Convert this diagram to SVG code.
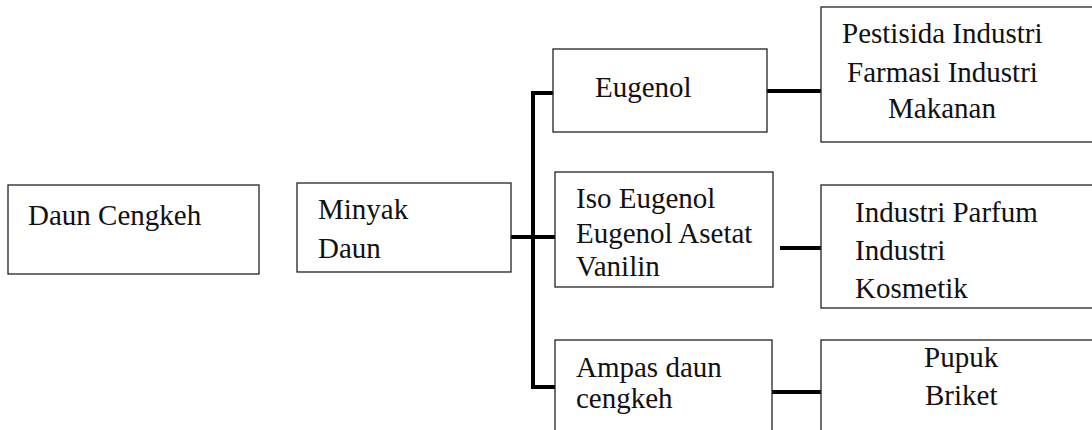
<svg xmlns="http://www.w3.org/2000/svg" width="1092" height="430" viewBox="0 0 1092 430">
  <style>
    .box { fill: #ffffff; stroke: #222222; stroke-width: 1.3; }
    .wire { stroke: #000000; stroke-width: 4; fill: none; }
    .lbl { font-family: 'Liberation Serif', 'Times New Roman', serif; font-size: 29px; fill: #111111; }
  </style>
  <rect width="1092" height="430" fill="#ffffff"/>

  <!-- connectors: thick black elbow lines -->
  <g id="connectors">
    <line class="wire" x1="511" y1="237" x2="555" y2="237"/>
    <polyline class="wire" points="553,93 533,93 533,387 555,387"/>
    <line class="wire" x1="765" y1="91" x2="822" y2="91"/>
    <line class="wire" x1="780" y1="248" x2="822" y2="248"/>
    <line class="wire" x1="772" y1="392" x2="822" y2="392"/>
  </g>

  <g id="daun-cengkeh">
    <rect class="box" x="8" y="185" width="251" height="89"/>
    <text class="lbl" x="28" y="225" font-family="'Liberation Serif', serif" font-size="31">Daun Cengkeh</text>
  </g>

  <g id="minyak-daun">
    <rect class="box" x="297" y="183" width="214" height="89"/>
    <text class="lbl" x="318" y="219" font-family="'Liberation Serif', serif">Minyak</text>
    <text class="lbl" x="318" y="258" font-family="'Liberation Serif', serif">Daun</text>
  </g>

  <g id="eugenol">
    <rect class="box" x="553" y="49" width="214" height="83"/>
    <text class="lbl" x="595" y="97" font-family="'Liberation Serif', serif">Eugenol</text>
  </g>

  <g id="iso-eugenol">
    <rect class="box" x="555" y="172" width="218" height="115"/>
    <text class="lbl" x="576" y="208" font-family="'Liberation Serif', serif">Iso Eugenol</text>
    <text class="lbl" x="576" y="243" font-family="'Liberation Serif', serif">Eugenol Asetat</text>
    <text class="lbl" x="576" y="276" font-family="'Liberation Serif', serif">Vanilin</text>
  </g>

  <g id="ampas-daun">
    <rect class="box" x="555" y="340" width="217" height="100"/>
    <text class="lbl" x="576" y="377" font-family="'Liberation Serif', serif">Ampas daun</text>
    <text class="lbl" x="576" y="408" font-family="'Liberation Serif', serif">cengkeh</text>
  </g>

  <g id="pestisida">
    <rect class="box" x="821" y="7" width="280" height="135"/>
    <text class="lbl" x="842" y="43" font-family="'Liberation Serif', serif">Pestisida Industri</text>
    <text class="lbl" x="847" y="82" font-family="'Liberation Serif', serif">Farmasi Industri</text>
    <text class="lbl" x="888" y="118" font-family="'Liberation Serif', serif">Makanan</text>
  </g>

  <g id="parfum">
    <rect class="box" x="821" y="185" width="280" height="123"/>
    <text class="lbl" x="855" y="222" font-family="'Liberation Serif', serif">Industri Parfum</text>
    <text class="lbl" x="855" y="260" font-family="'Liberation Serif', serif">Industri</text>
    <text class="lbl" x="855" y="298" font-family="'Liberation Serif', serif">Kosmetik</text>
  </g>

  <g id="pupuk">
    <rect class="box" x="821" y="340" width="280" height="100"/>
    <text class="lbl" x="924" y="367" font-family="'Liberation Serif', serif">Pupuk</text>
    <text class="lbl" x="925" y="405" font-family="'Liberation Serif', serif">Briket</text>
  </g>
</svg>
